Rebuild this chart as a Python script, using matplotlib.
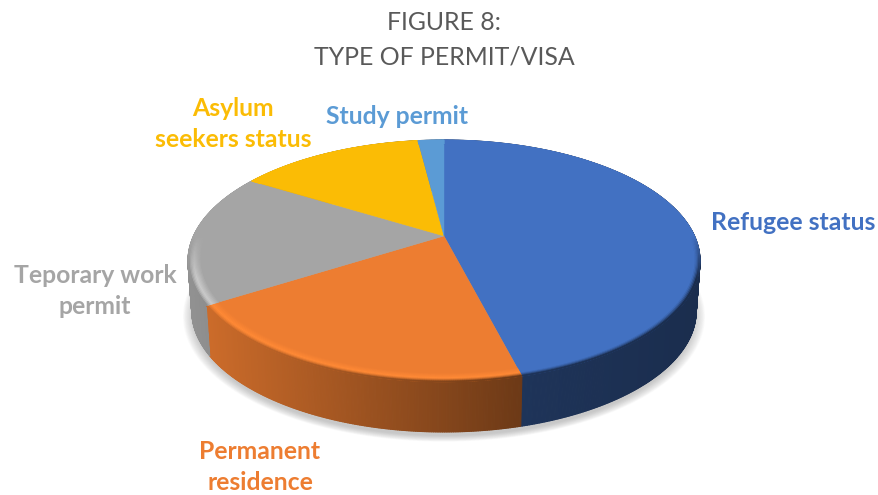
#!/usr/bin/env python3
"""3D style pie of permit/visa types, drawn by hand since matplotlib has no 3D pie."""

import matplotlib
matplotlib.use("Agg")
import matplotlib.pyplot as plt
import numpy as np
from matplotlib.collections import PolyCollection

# --- data ---
labels = ["Refugee status", "Permanent\nresidence", "Teporary work\npermit",
          "Asylum\nseekers status", "Study permit"]
shares = [46.0, 20.0, 17.8, 14.2, 2.0]
colors = ["#4271C2", "#ED7D31", "#A5A5A5", "#FBBC05", "#5B9BD5"]

title_lines = ["FIGURE 8:", "TYPE OF PERMIT/VISA"]

# --- geometry in pixels, fitted to the picture ---
CX, CY = 444.0, 236.0
A, B, K = 250.5, 115.8, 0.2066  # perspective: back of the disc is smaller
DEPTH = 50.0
BOTTOM_SCALE = 0.985
RIM_LIGHT = [1.0, 1.10, 1.22, 1.05, 1.0]
STEPS_PER_DEG = 3

plt.rcParams["font.family"] = ["Lato", "DejaVu Sans"]


def top_xy(theta, r=1.0):
    """Clockwise angle from 12 o'clock -> pixel on the top face."""
    u, v = r * np.sin(theta), r * np.cos(theta)
    w = 1 + K * v
    return CX + A * u / w, CY - B * v / w


def bottom_xy(theta):
    x, y = top_xy(theta)
    return CX + (x - CX) * BOTTOM_SCALE, y + DEPTH


def side_factor(x):
    return np.interp(x, [190, 520, 700], [0.88, 0.46, 0.40])


def mix(c1, c2, t):
    return c1 + (c2 - c1) * t


def slice_angles(i):
    n = max(int(np.degrees(edges[i + 1] - edges[i]) * STEPS_PER_DEG), 2)
    return np.linspace(edges[i], edges[i + 1], n + 1)


fig = plt.figure(figsize=(8.79, 4.95), dpi=100, facecolor="white")
ax = fig.add_axes([0, 0, 1, 1])
ax.set_xlim(0, 879)
ax.set_ylim(495, 0)
ax.axis("off")

edges = np.radians(np.concatenate([[0], np.cumsum(shares)]) / sum(shares) * 360)

# soft shadow under the disc
ring = np.linspace(0, 2 * np.pi, 240)
bx, by = bottom_xy(ring)
for s in np.linspace(1.035, 0.99, 14):
    ax.fill(CX + (bx - CX) * s, by.mean() + (by - by.mean()) * s + 5,
            color="#808080", alpha=0.035, lw=0, zorder=1)

# side wall
quads, quad_cols = [], []
for i, col in enumerate(colors):
    base = np.array(matplotlib.colors.to_rgb(col))
    th = slice_angles(i)
    x0, y0 = top_xy(th)
    x1, y1 = bottom_xy(th)
    for j in range(len(th) - 1):
        quads.append([(x0[j], y0[j]), (x0[j + 1], y0[j + 1]), (x1[j + 1], y1[j + 1]), (x1[j], y1[j])])
        quad_cols.append(base * side_factor(0.5 * (x0[j] + x0[j + 1])))
ax.add_collection(PolyCollection(quads, facecolors=quad_cols, edgecolors=quad_cols, linewidths=0.8, zorder=2))

# top face
for i, col in enumerate(colors):
    th = np.linspace(edges[i], edges[i + 1], 120)
    x, y = top_xy(th)
    ax.fill(np.r_[CX, x], np.r_[CY, y], color=col, lw=0.3, zorder=3)

# bevel: thin rings along the front rim, blending into the wall colour
ring_r = np.linspace(0.95, 1.0, 12)
quads, quad_cols = [], []
for i, col in enumerate(colors):
    base = np.array(matplotlib.colors.to_rgb(col))
    light = np.clip(base * RIM_LIGHT[i], 0, 1)
    th = slice_angles(i)
    for k in range(len(ring_r) - 1):
        t = k / (len(ring_r) - 2)
        x0, y0 = top_xy(th, ring_r[k])
        x1, y1 = top_xy(th, ring_r[k + 1])
        for j in range(len(th) - 1):
            mid = 0.5 * (th[j] + th[j + 1])
            g = np.clip((0.0 - np.cos(mid)) / 0.35, 0, 1)
            wall = base * side_factor(0.5 * (x1[j] + x1[j + 1]))
            if t < 0.6:
                c = mix(base, light, g * t / 0.6)
            else:
                c = mix(base, mix(light, wall, ((t - 0.6) / 0.4) ** 1.5), g)
            quads.append([(x0[j], y0[j]), (x0[j + 1], y0[j + 1]), (x1[j + 1], y1[j + 1]), (x1[j], y1[j])])
            quad_cols.append(c)
ax.add_collection(PolyCollection(quads, facecolors=quad_cols, edgecolors=quad_cols, linewidths=0.6, zorder=4))

# titles
ax.text(444, 22, title_lines[0], ha="center", va="center", fontsize=17.9, color="#595959")
ax.text(444, 57, title_lines[1], ha="center", va="center", fontsize=17.9, color="#595959")

# category labels
label_pos = [(793, 222), (260, 467), (95, 291), (233, 124), (397, 116)]
for text, col, (lx, ly) in zip(labels, colors, label_pos):
    ax.text(lx, ly, text, ha="center", va="center", color=col, fontsize=17.8,
            fontweight="bold", linespacing=1.42)

fig.savefig("out.png", dpi=100, facecolor="white")
